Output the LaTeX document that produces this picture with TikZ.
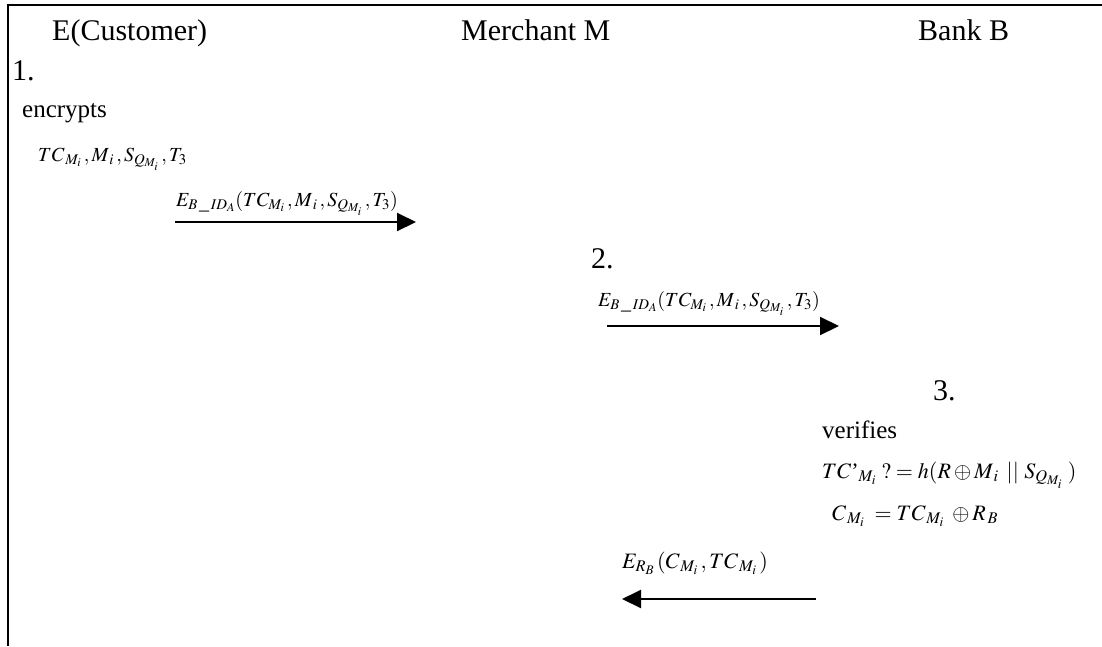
\documentclass[tikz,border=0pt]{standalone}
\usepackage{mathptmx}
\usepackage[no-math]{fontspec}
\setmainfont{Liberation Serif}
\usetikzlibrary{arrows.meta}
\begin{document}
\begin{tikzpicture}[x=1pt,y=-1pt,
  big/.style={anchor=base west,inner sep=0pt,font=\fontsize{30}{34}\selectfont},
  small/.style={anchor=base west,inner sep=0pt,font=\fontsize{25}{29}\selectfont},
  eq/.style={anchor=base west,inner sep=0pt,font=\fontsize{20}{23}\selectfont},
  eqb/.style={anchor=base west,inner sep=0pt,font=\fontsize{22}{25}\selectfont},
  msg/.style={line width=2pt,-{Triangle[length=19pt,width=18pt]}},
  frame/.style={line width=2.2pt}]
\useasboundingbox (0,0) rectangle (1102,646);
% frame
\coordinate (tl) at (8,5);
\coordinate (tr) at (1102,5);
\coordinate (bl) at (8,646);
\draw[frame] (bl) -- (tl) -- (tr);
% headers
\node[big] (hE) at (52,40) {E(Customer)};
\node[big] (hM) at (461,40) {Merchant M};
\node[big] (hB) at (918,40) {Bank B};
% step 1
\node[big] (s1) at (12,80) {1.};
\node[small] (enc) at (22,117) {encrypts};
\node[eq] (m1) at (38,161) {$TC_{\,M_i}\,,M_{\,i}\,,S_{Q_{M_i}}\,,T_3$};
\node[eq] (l1) at (176,206) {$E_{B\,\_\,ID_A}(TC_{M_i}\,,M_{\,i}\,,S_{Q_{M_i}}\,,T_3)$};
\coordinate (a1s) at (175,222);
\coordinate (a1e) at (416,222);
\draw[msg] (a1s) -- (a1e);
% step 2
\node[big] (s2) at (591,268) {2.};
\node[eq] (l2) at (598,306) {$E_{B\,\_\,ID_A}(TC_{M_i}\,,M_{\,i}\,,S_{Q_{M_i}}\,,T_3)$};
\coordinate (a2s) at (607,326);
\coordinate (a2e) at (839,326);
\draw[msg] (a2s) -- (a2e);
% step 3
\node[big] (s3) at (933,400) {3.};
\node[small] (ver) at (822,438) {verifies};
\node[eqb] (v1) at (822,478) {$TC\mbox{'}_{M_i}\;?=h(R\oplus M_{\,i}\;\mathbin{||}\,S_{Q_{M_i}}\;)$};
\node[eqb] (v2) at (832,520) {$C_{\,M_i}\;=TC_{\,M_i}\;\oplus R_{\,B}$};
\node[eqb] (l3) at (622,568) {$E_{R_B}\,(C_{\,M_i}\,,TC_{\,M_i}\,)$};
\coordinate (a3s) at (816,599);
\coordinate (a3e) at (622,599);
\draw[msg] (a3s) -- (a3e);
\end{tikzpicture}
\end{document}
